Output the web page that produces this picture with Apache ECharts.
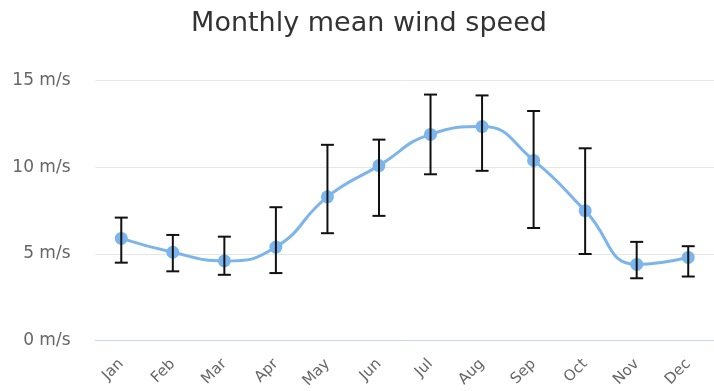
<!DOCTYPE html>
<html>
<head>
<meta charset="utf-8">
<script src="https://cdn.jsdelivr.net/npm/echarts@6/dist/echarts.min.js"></script>
<style>
  html, body { margin: 0; padding: 0; background: #fff; }
  #chart { width: 714px; height: 391px; }
</style>
</head>
<body>
<div id="chart"></div>
<script>
// Monthly wind speed: mean values with low/high ranges (m/s)
const months = ['Jan', 'Feb', 'Mar', 'Apr', 'May', 'Jun', 'Jul', 'Aug', 'Sep', 'Oct', 'Nov', 'Dec'];
const meanSpeed = [5.9, 5.1, 4.6, 5.4, 8.3, 10.1, 11.9, 12.35, 10.4, 7.5, 4.4, 4.8];
const lowSpeed = [4.5, 4.0, 3.8, 3.9, 6.2, 7.2, 9.6, 9.8, 6.5, 5.0, 3.6, 3.7];
const highSpeed = [7.1, 6.1, 6.0, 7.7, 11.3, 11.6, 14.2, 14.15, 13.25, 11.1, 5.7, 5.45];
const yTicks = [0, 5, 10, 15];

const FONT = '"DejaVu Sans", Verdana, sans-serif';
const errorData = months.map((m, i) => [i, lowSpeed[i], highSpeed[i]]);

const chart = echarts.init(document.getElementById('chart'), null, { renderer: 'canvas' });

chart.setOption({
  animation: false,
  backgroundColor: '#ffffff',
  title: {
    text: 'Monthly mean wind speed',
    left: 364,
    top: 5,
    textAlign: 'center',
    textStyle: { fontFamily: FONT, fontSize: 27, fontWeight: 'normal', color: '#333333' }
  },
  grid: { left: 95.5, top: 80.7, width: 627, height: 260.3, containLabel: false },
  xAxis: {
    type: 'category',
    data: months,
    boundaryGap: true,
    axisLine: { show: true, lineStyle: { color: '#ccd6eb', width: 1 } },
    axisTick: { show: false },
    axisLabel: {
      rotate: 45,
      margin: 21,
      interval: 0,
      color: '#666666',
      fontFamily: FONT,
      fontSize: 15
    },
    splitLine: { show: false }
  },
  yAxis: {
    type: 'value',
    min: yTicks[0],
    max: yTicks[yTicks.length - 1],
    interval: 5,
    axisLine: { show: false },
    axisTick: { show: false },
    axisLabel: {
      margin: 25,
      color: '#666666',
      fontFamily: FONT,
      fontSize: 17,
      formatter: v => v + ' m/s'
    },
    splitLine: { show: true, lineStyle: { color: '#e6e6e6', width: 1 } }
  },
  series: [
    {
      name: 'Mean wind speed',
      type: 'line',
      data: meanSpeed,
      smooth: 0.5,
      symbol: 'circle',
      symbolSize: 13,
      z: 2,
      itemStyle: { color: '#7cb5ec' },
      lineStyle: { color: '#7cb5ec', width: 3 }
    },
    {
      name: 'Range',
      type: 'custom',
      z: 5,
      data: errorData,
      renderItem: function (params, api) {
        const x = api.value(0);
        const lo = api.coord([x, api.value(1)]);
        const hi = api.coord([x, api.value(2)]);
        const hw = 6.5;
        const style = { stroke: '#111111', lineWidth: 2, fill: null };
        return {
          type: 'group',
          children: [
            { type: 'line', shape: { x1: lo[0], y1: lo[1], x2: hi[0], y2: hi[1] }, style: style },
            { type: 'line', shape: { x1: hi[0] - hw, y1: hi[1], x2: hi[0] + hw, y2: hi[1] }, style: style },
            { type: 'line', shape: { x1: lo[0] - hw, y1: lo[1], x2: lo[0] + hw, y2: lo[1] }, style: style }
          ]
        };
      }
    }
  ]
});
</script>
</body>
</html>
